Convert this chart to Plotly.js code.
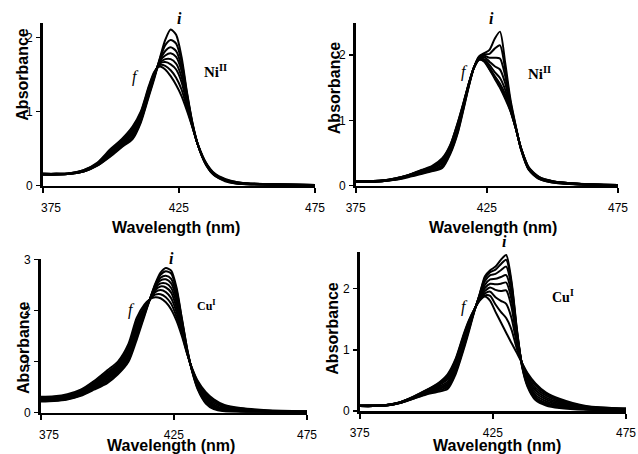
<!DOCTYPE html>
<html>
<head>
<meta charset="utf-8">
<script src="https://cdn.plot.ly/plotly-3.0.1.min.js"></script>
<style>html,body{margin:0;padding:0;background:#fff;}#chart{width:638px;height:454px;}</style>
</head>
<body>
<div id="chart"></div>
<script>
// ---------- DATA (absorbance) ----------
const xTicks = [375, 425, 475];

// Panel 1: Ni(II) titration, first set
const wlNiA = [375,380,385,390,395,400,404,408,411,414,416,418,420,422,424,426,428,430,432,435,438,442,446,450,460,475];
const absNiA = [
  [0.15,0.15,0.16,0.19,0.27,0.40,0.52,0.63,0.85,1.21,1.45,1.72,1.97,2.11,2.04,1.74,1.26,0.85,0.55,0.28,0.14,0.06,0.03,0.02,0.01,0.01],
  [0.15,0.15,0.16,0.19,0.27,0.41,0.53,0.65,0.87,1.23,1.47,1.71,1.90,1.97,1.92,1.68,1.24,0.84,0.55,0.28,0.14,0.07,0.03,0.02,0.01,0.01],
  [0.15,0.15,0.16,0.19,0.28,0.42,0.54,0.67,0.89,1.25,1.48,1.69,1.82,1.87,1.82,1.61,1.21,0.83,0.55,0.29,0.15,0.07,0.04,0.02,0.01,0.01],
  [0.15,0.15,0.16,0.20,0.28,0.43,0.56,0.70,0.91,1.27,1.49,1.68,1.76,1.79,1.74,1.55,1.18,0.82,0.55,0.29,0.15,0.07,0.04,0.03,0.01,0.01],
  [0.16,0.16,0.16,0.20,0.29,0.44,0.57,0.72,0.93,1.29,1.51,1.66,1.71,1.71,1.65,1.47,1.14,0.81,0.55,0.29,0.15,0.08,0.04,0.03,0.02,0.01],
  [0.16,0.16,0.17,0.20,0.29,0.46,0.59,0.75,0.96,1.31,1.52,1.65,1.67,1.64,1.57,1.40,1.10,0.80,0.55,0.30,0.16,0.08,0.04,0.03,0.02,0.01],
  [0.16,0.16,0.17,0.21,0.30,0.48,0.61,0.77,0.98,1.33,1.53,1.63,1.62,1.56,1.46,1.30,1.05,0.79,0.55,0.30,0.16,0.08,0.05,0.03,0.02,0.01],
  [0.16,0.16,0.17,0.21,0.31,0.50,0.63,0.80,1.00,1.35,1.54,1.61,1.57,1.48,1.36,1.21,1.01,0.79,0.56,0.31,0.17,0.09,0.05,0.03,0.02,0.01]
];

// Panel 2: Ni(II) titration, second set
const wlNiB = [375,380,385,390,395,400,404,408,411,414,416,418,420,422,424,426,428,430,432,434,436,438,441,445,450,460,475];
const absNiB = [
  [0.06,0.06,0.07,0.09,0.13,0.18,0.22,0.27,0.48,0.82,1.15,1.50,1.80,1.98,2.03,2.08,2.25,2.36,1.88,1.32,0.92,0.56,0.24,0.10,0.05,0.02,0.01],
  [0.06,0.06,0.07,0.09,0.14,0.19,0.23,0.29,0.50,0.84,1.17,1.51,1.80,1.97,2.01,2.02,2.10,2.15,1.78,1.28,0.91,0.56,0.25,0.11,0.05,0.02,0.01],
  [0.06,0.06,0.07,0.10,0.14,0.20,0.24,0.31,0.52,0.87,1.19,1.52,1.80,1.96,1.99,1.96,1.96,1.95,1.68,1.24,0.90,0.57,0.25,0.11,0.06,0.02,0.01],
  [0.06,0.07,0.07,0.10,0.15,0.21,0.26,0.34,0.55,0.90,1.21,1.53,1.80,1.95,1.97,1.90,1.83,1.78,1.57,1.21,0.89,0.57,0.26,0.12,0.06,0.02,0.01],
  [0.07,0.07,0.08,0.10,0.15,0.22,0.27,0.36,0.57,0.93,1.23,1.54,1.80,1.94,1.94,1.85,1.74,1.65,1.47,1.18,0.89,0.57,0.26,0.12,0.06,0.03,0.01],
  [0.07,0.07,0.08,0.11,0.16,0.23,0.28,0.38,0.59,0.95,1.24,1.54,1.80,1.94,1.92,1.81,1.68,1.56,1.40,1.16,0.88,0.58,0.27,0.12,0.07,0.03,0.01],
  [0.07,0.07,0.08,0.11,0.16,0.23,0.29,0.40,0.61,0.97,1.25,1.55,1.80,1.93,1.91,1.79,1.66,1.52,1.36,1.15,0.88,0.58,0.27,0.13,0.07,0.03,0.01],
  [0.07,0.07,0.08,0.11,0.16,0.24,0.30,0.42,0.62,0.98,1.26,1.55,1.80,1.93,1.90,1.78,1.64,1.50,1.33,1.14,0.88,0.58,0.28,0.13,0.07,0.03,0.01]
];

// Panel 3: Cu(I) titration, first set
const wlCuA = [375,380,385,390,395,400,404,408,411,414,416,418,420,422,424,426,428,430,432,434,437,440,444,450,460,475];
const absCuA = [
  [0.22,0.23,0.26,0.33,0.45,0.58,0.75,1.00,1.42,1.90,2.22,2.52,2.74,2.83,2.78,2.45,1.85,1.25,0.78,0.45,0.18,0.07,0.03,0.02,0.01,0.01],
  [0.23,0.24,0.27,0.34,0.47,0.61,0.78,1.04,1.47,1.93,2.22,2.50,2.70,2.77,2.72,2.40,1.83,1.24,0.79,0.47,0.20,0.09,0.04,0.02,0.01,0.01],
  [0.24,0.25,0.28,0.35,0.49,0.64,0.81,1.08,1.52,1.96,2.22,2.48,2.64,2.68,2.62,2.32,1.79,1.22,0.80,0.49,0.23,0.11,0.05,0.03,0.02,0.01],
  [0.25,0.26,0.29,0.37,0.51,0.67,0.84,1.12,1.57,1.99,2.22,2.46,2.59,2.61,2.53,2.24,1.74,1.20,0.80,0.51,0.26,0.13,0.06,0.04,0.02,0.01],
  [0.26,0.27,0.30,0.38,0.53,0.70,0.87,1.17,1.62,2.02,2.22,2.43,2.53,2.53,2.44,2.15,1.69,1.19,0.81,0.53,0.29,0.16,0.08,0.05,0.03,0.02],
  [0.27,0.28,0.32,0.40,0.55,0.73,0.90,1.21,1.67,2.04,2.22,2.40,2.47,2.45,2.35,2.06,1.64,1.18,0.82,0.56,0.32,0.19,0.10,0.06,0.03,0.02],
  [0.28,0.29,0.33,0.41,0.57,0.76,0.93,1.25,1.72,2.06,2.22,2.36,2.40,2.36,2.24,1.97,1.59,1.17,0.83,0.58,0.35,0.22,0.12,0.07,0.04,0.02],
  [0.29,0.30,0.34,0.43,0.59,0.79,0.96,1.29,1.78,2.08,2.22,2.31,2.32,2.26,2.13,1.88,1.55,1.16,0.84,0.60,0.37,0.24,0.13,0.08,0.04,0.03],
  [0.31,0.32,0.36,0.45,0.62,0.83,1.00,1.35,1.85,2.12,2.22,2.26,2.24,2.16,2.02,1.80,1.50,1.15,0.85,0.62,0.40,0.26,0.15,0.09,0.05,0.03]
];

// Panel 4: Cu(I) titration, second set
const wlCuB = [375,380,385,390,395,400,404,408,411,414,416,418,420,422,424,426,428,430,432,434,436,438,441,445,450,460,475];
const absCuB = [
  [0.08,0.08,0.09,0.13,0.20,0.27,0.31,0.36,0.60,1.00,1.30,1.62,1.90,2.20,2.30,2.36,2.47,2.55,2.12,1.35,0.72,0.40,0.18,0.09,0.05,0.02,0.01],
  [0.08,0.08,0.09,0.13,0.20,0.28,0.33,0.39,0.63,1.03,1.33,1.63,1.90,2.17,2.27,2.31,2.40,2.47,2.08,1.33,0.73,0.42,0.20,0.11,0.06,0.03,0.01],
  [0.08,0.08,0.09,0.13,0.21,0.29,0.35,0.42,0.66,1.06,1.35,1.63,1.89,2.12,2.22,2.24,2.30,2.36,2.02,1.30,0.74,0.44,0.23,0.13,0.08,0.03,0.02],
  [0.08,0.08,0.09,0.13,0.21,0.30,0.36,0.45,0.69,1.09,1.38,1.64,1.87,2.06,2.15,2.16,2.19,2.22,1.92,1.27,0.75,0.47,0.26,0.16,0.10,0.04,0.02],
  [0.08,0.09,0.10,0.14,0.21,0.31,0.38,0.48,0.73,1.13,1.40,1.64,1.85,2.01,2.08,2.07,2.08,2.10,1.82,1.22,0.76,0.50,0.30,0.19,0.12,0.05,0.02],
  [0.09,0.09,0.10,0.14,0.22,0.32,0.40,0.52,0.77,1.17,1.43,1.65,1.83,1.96,2.02,1.98,1.96,1.97,1.70,1.17,0.77,0.54,0.34,0.22,0.14,0.06,0.03],
  [0.09,0.09,0.10,0.14,0.22,0.33,0.42,0.55,0.80,1.20,1.45,1.65,1.82,1.92,1.95,1.86,1.80,1.75,1.52,1.10,0.77,0.57,0.38,0.25,0.16,0.07,0.03],
  [0.09,0.09,0.10,0.14,0.23,0.34,0.43,0.58,0.83,1.23,1.47,1.66,1.81,1.89,1.88,1.74,1.62,1.52,1.33,1.02,0.78,0.60,0.42,0.28,0.18,0.07,0.04],
  [0.09,0.09,0.10,0.14,0.23,0.34,0.44,0.60,0.85,1.25,1.48,1.66,1.80,1.87,1.80,1.62,1.45,1.28,1.11,0.95,0.78,0.62,0.45,0.30,0.20,0.08,0.04]
];

const yMax = [2.2, 2.5, 3.0, 2.6];
const yTicks = [[0,1,2],[0,1,2],[0,1,2,3],[0,1,2]];
const metalLabels = ['<b>Ni<sup>II</sup></b>','<b>Ni<sup>II</sup></b>','<b>Cu<sup>I</sup></b>','<b>Cu<sup>I</sup></b>'];

// ---------- BUILD ----------
const panels = [
  {wl: wlNiA, abs: absNiA},
  {wl: wlNiB, abs: absNiB},
  {wl: wlCuA, abs: absCuA},
  {wl: wlCuB, abs: absCuB}
];
const traces = [];
panels.forEach((p, k) => {
  const ax = k === 0 ? '' : String(k + 1);
  p.abs.forEach(series => {
    traces.push({
      x: p.wl, y: series, type: 'scatter', mode: 'lines',
      xaxis: 'x' + ax, yaxis: 'y' + ax,
      line: {color: '#000', width: 2, shape: 'spline', smoothing: 0.7},
      hoverinfo: 'skip', showlegend: false
    });
  });
});

const W = 638, H = 454;
// pixel boxes [x0, x1, yTop, yBottom] of each panel
const boxes = [
  [42.7, 315, 22.9, 185.7],
  [355.7, 618, 22.5, 185.7],
  [40.7, 307, 259.4, 412.7],
  [359.7, 626, 251.9, 411]
];
// the first tick label of the left-hand panels sits a little right of the axis
const pad = '\u00a0\u00a0\u00a0\u00a0\u00a0';
const firstTickText = [pad + '375', '375', pad + '375', '375'];
const sans = 'Liberation Sans, Arial, sans-serif';
const serif = 'Liberation Serif, Times New Roman, serif';
const layout = {
  width: W, height: H, autosize: false,
  margin: {l: 0, r: 0, t: 0, b: 0},
  paper_bgcolor: '#fff', plot_bgcolor: 'rgba(0,0,0,0)',
  showlegend: false,
  annotations: []
};
boxes.forEach((b, k) => {
  const ax = k === 0 ? '' : String(k + 1);
  layout['xaxis' + ax] = {
    domain: [b[0] / W, b[1] / W], anchor: 'y' + ax,
    range: [375, 475], tickvals: xTicks, ticktext: [firstTickText[k], '425', '475'],
    showline: true, linecolor: '#000', linewidth: 2.5,
    ticks: 'outside', ticklen: 5, tickwidth: 2, tickcolor: '#000',
    ticklabelstandoff: 4,
    showgrid: false, zeroline: false, fixedrange: true,
    tickfont: {family: sans, size: 12, color: '#000'}
  };
  layout['yaxis' + ax] = {
    domain: [(H - b[3]) / H, (H - b[2]) / H], anchor: 'x' + ax,
    range: [0, yMax[k]], tickvals: yTicks[k],
    showline: true, linecolor: '#000', linewidth: 2.5,
    ticks: 'outside', ticklen: 4, tickwidth: 1.5, tickcolor: '#000',
    ticklabelstandoff: 1,
    showgrid: false, zeroline: false, fixedrange: true,
    tickfont: {family: sans, size: 12, color: '#000'}
  };
});

function ann(text, px, py, font, extra) {
  return Object.assign({
    text: text, xref: 'paper', yref: 'paper',
    x: px / W, y: (H - py) / H, showarrow: false,
    xanchor: 'center', yanchor: 'middle', font: font
  }, extra || {});
}
const titleFont = {family: sans, size: 16, color: '#000'};
const yTitlePos = [[21.7, 74], [334.7, 87.5], [23.3, 347.8], [333, 328.7]];
const xTitlePos = [[176, 227], [493, 227], [171, 445], [497, 445]];
const iPos = [[180, 18.3], [491.3, 18.3], [171.7, 258.7], [504.7, 242]];
const fPos = [[135, 76.7], [464.7, 71.7], [131.7, 310.3], [464.7, 307]];
const mPos = [[201.7, 71], [526, 73], [195, 305], [549.7, 296]];
const mSize = [15, 15, 12, 14];
for (let k = 0; k < 4; k++) {
  layout.annotations.push(ann('<b>Absorbance</b>', yTitlePos[k][0], yTitlePos[k][1], titleFont, {textangle: -90}));
  layout.annotations.push(ann('<b>Wavelength (nm)</b>', xTitlePos[k][0], xTitlePos[k][1], titleFont));
  layout.annotations.push(ann('<b><i>i</i></b>', iPos[k][0], iPos[k][1], {family: serif, size: 16, color: '#000'}));
  layout.annotations.push(ann('<i>f</i>', fPos[k][0], fPos[k][1], {family: serif, size: 16, color: '#000'}));
  layout.annotations.push(ann(metalLabels[k], mPos[k][0], mPos[k][1], {family: serif, size: mSize[k], color: '#000'}, {xanchor: 'left'}));
}

Plotly.newPlot('chart', traces, layout, {displayModeBar: false, staticPlot: true});
</script>
</body>
</html>
